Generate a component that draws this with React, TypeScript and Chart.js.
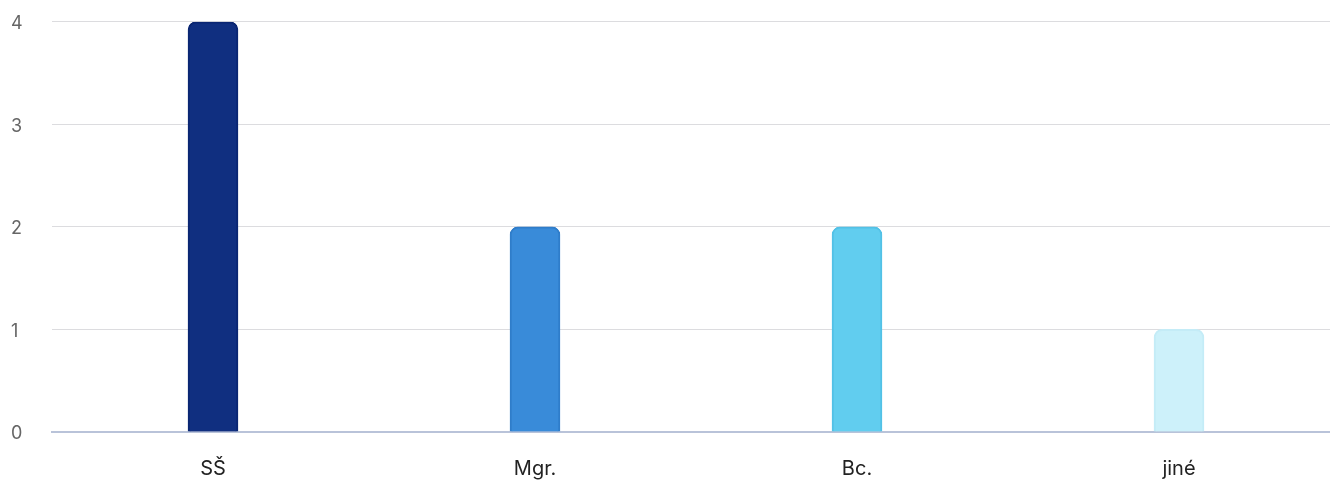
import React, { useEffect, useRef } from "react";
import { Chart, registerables } from "chart.js";

Chart.register(...registerables);

const categories = ["SŠ", "Mgr.", "Bc.", "jiné"];
const values = [4, 2, 2, 1];
const barColors = ["#102f80", "#398bd9", "#61cdef", "#cdf1fa"];
const borderColors = ["#0a2672", "#2f7dca", "#52c1e6", "#c4ecf7"];
const yTicks = [0, 1, 2, 3, 4];

export default function App() {
  const ref = useRef<HTMLCanvasElement | null>(null);
  useEffect(() => {
    document.body.style.margin = "0";
    document.body.style.overflow = "hidden";
    const ctx = ref.current!;
    const chart = new Chart(ctx, {
      type: "bar",
      data: {
        labels: categories,
        datasets: [
          {
            data: values,
            backgroundColor: barColors,
            borderColor: borderColors,
            borderWidth: 2,
            borderRadius: 8,
            borderSkipped: "bottom",
            barThickness: 50,
          },
        ],
      },
      options: {
        animation: false,
        responsive: false,
        maintainAspectRatio: false,
        layout: { padding: { top: 0, right: 1, left: 11, bottom: 0 } },
        plugins: { legend: { display: false }, tooltip: { enabled: false } },
        scales: {
          x: {
            grid: { display: false, drawTicks: false },
            border: { display: true, color: "#b9c3d9", width: 2 },
            ticks: {
              color: "#222",
              font: { family: "Inter", size: 20 },
              padding: 25,
            },
            afterFit: (axis: any) => {
              axis.height = 48;
            },
          },
          y: {
            min: 0,
            max: 4,
            afterBuildTicks: (axis: any) => {
              axis.ticks = yTicks.map((v) => ({ value: v }));
            },
            grid: { color: "#dcdcdf", drawTicks: false, lineWidth: 1 },
            border: { display: false },
            ticks: {
              color: "#666",
              font: { family: "Inter", size: 18 },
              padding: 11,
              labelOffset: 2,
              crossAlign: "far",
            },
            afterFit: (axis: any) => {
              axis.width = 41;
            },
          },
        },
      },
    });
    return () => chart.destroy();
  }, []);
  return <canvas ref={ref} width={1341} height={480} style={{ display: "block" }} />;
}
